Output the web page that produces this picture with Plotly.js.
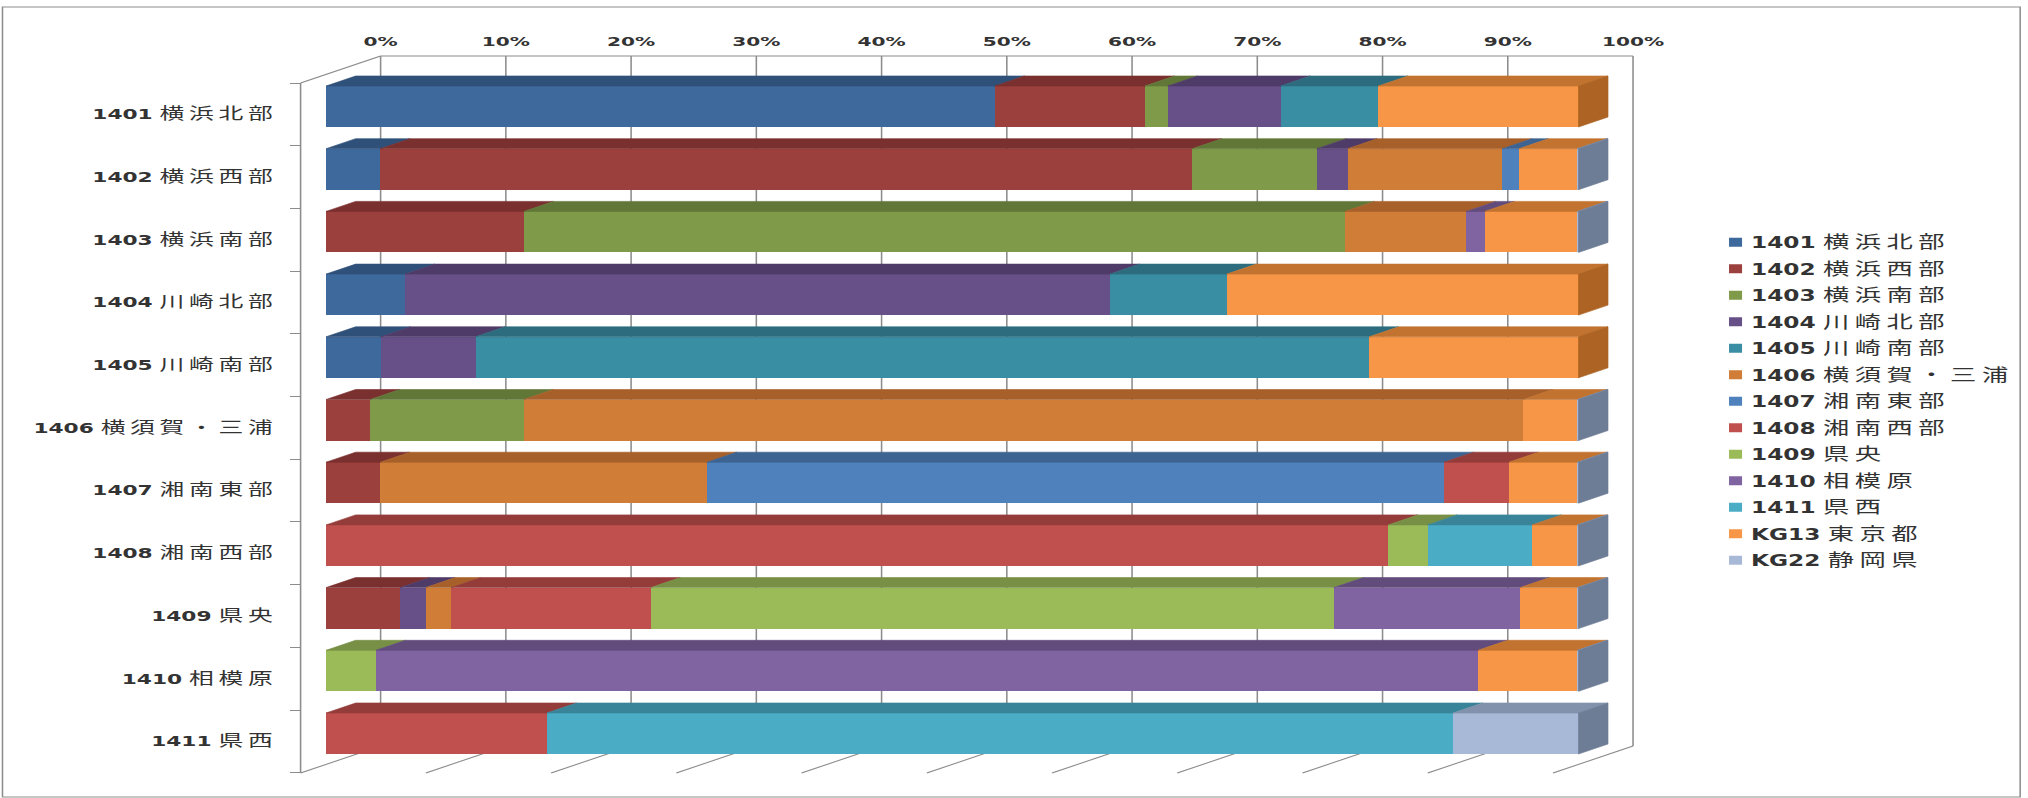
<!DOCTYPE html>
<html><head><meta charset="utf-8">
<script src="https://cdn.plot.ly/plotly-3.0.1.min.js"></script>
<style>
html,body{margin:0;padding:0;background:#fff;overflow:hidden}
#wrap{width:2028px;height:798px;overflow:hidden}
#chart{width:1340px;height:798px;transform:scaleX(1.5504587);transform-origin:0 0}
#chart .legendpoints path{transform:translate(30px,0px) scale(0.7,0.75)}
</style></head><body><div id="wrap"><div id="chart"></div></div>
<script>
// ---------------- data ----------------
const categories = ['1401 横浜北部','1402 横浜西部','1403 横浜南部','1404 川崎北部','1405 川崎南部',
  '1406 横須賀・三浦','1407 湘南東部','1408 湘南西部','1409 県央','1410 相模原','1411 県西'];
const seriesNames = ['1401 横浜北部','1402 横浜西部','1403 横浜南部','1404 川崎北部','1405 川崎南部',
  '1406 横須賀・三浦','1407 湘南東部','1408 湘南西部','1409 県央','1410 相模原','1411 県西',
  'KG13 東京都','KG22 静岡県'];
// share (%) of each destination, one value per origin row (1401 ... 1411)
const s1401 = [53.40, 4.33, 0, 6.32, 4.38, 0, 0, 0, 0, 0, 0];
const s1402 = [11.98, 64.82, 15.79, 0, 0, 3.52, 4.33, 0, 5.91, 0, 0];
const s1403 = [1.83, 9.95, 65.56, 0, 0, 12.27, 0, 0, 0, 0, 0];
const s1404 = [9.01, 2.46, 0, 56.28, 7.55, 0, 0, 0, 2.04, 0, 0];
const s1405 = [7.80, 0, 0, 9.32, 71.36, 0, 0, 0, 0, 0, 0];
const s1406 = [0, 12.36, 9.69, 0, 0, 79.81, 26.09, 0, 2.04, 0, 0];
const s1407 = [0, 1.31, 0, 0, 0, 0, 58.84, 0, 0, 0, 0];
const s1408 = [0, 0, 0, 0, 0, 0, 5.18, 84.81, 15.94, 0, 17.63];
const s1409 = [0, 0, 0, 0, 0, 0, 0, 3.14, 54.53, 3.98, 0];
const s1410 = [0, 0, 1.47, 0, 0, 0, 0, 0, 14.87, 88.00, 0];
const s1411 = [0, 0, 0, 0, 0, 0, 0, 8.33, 0, 0, 72.36];
const sKG13 = [15.98, 4.67, 7.39, 28.08, 16.71, 4.30, 5.46, 3.62, 4.57, 7.92, 0];
const sKG22 = [0, 0.1, 0.1, 0, 0, 0.1, 0.1, 0.1, 0.1, 0.1, 10.01];
const pctTicks = [0,10,20,30,40,50,60,70,80,90,100];
const pctLabels = ['0%','10%','20%','30%','40%','50%','60%','70%','80%','90%','100%'];

const seriesValues = [s1401,s1402,s1403,s1404,s1405,s1406,s1407,s1408,s1409,s1410,s1411,sKG13,sKG22];

// ---------------- style ----------------
const frontColors = ['#3E699C','#9C403D','#7F9A48','#674F88','#3A8EA4','#D07D37','#4F81BD','#C0504D','#9BBB59','#8064A2','#4BACC6','#F79646','#A7B9D7'];
const topColors   = ['#2F5079','#7A302E','#617737','#4E3B68','#2C6C7E','#A8602A','#3C6391','#943C3A','#779045','#614C7C','#398498','#C2732F','#8292AC'];
const sideColors  = ['#2A4770','#6E2B29','#566A31','#44345C','#275F6F','#96551F','#355883','#853634','#6A813C','#56436F','#327587','#AC6323','#6E7D96'];
const FONT = 'DejaVu Sans, Noto Sans CJK JP, sans-serif';
const GRID = '#8c8c8c';

// ---------------- geometry (final picture pixels) ----------------
const S = 2028 / 1308;                     // horizontal stretch of the picture
const LW = 1340;                           // layout width (extra room is clipped by the wrapper)
const L = {l:295, r:1645, t:56, b:780};   // plot box
const fx = px => (px - L.l) / (L.r - L.l);
const fy = py => (L.b - py) / (L.b - L.t);
const P = 12.52;                 // px per 1 %
const BAR_X0 = 326.5, WALL_X0 = 381, PLANE_X0 = 301;
const WALL_TOP = 56, WALL_BOT = 746, PLANE_TOP = 83, PLANE_BOT = 773;
const ROW0 = 106.5, PITCH = 62.7, BAR_H = 41, SLOT0 = 114.35;
const DEPTH_X = 29.5, DEPTH_Y = 10;
const xr = [(L.l - BAR_X0) / P, (L.r - BAR_X0) / P];
const x2r = [(L.l - WALL_X0) / P, (L.r - WALL_X0) / P];
const yr = [(L.b - ROW0) / PITCH, (L.t - ROW0) / PITCH];
const y3r = [(L.b - SLOT0) / PITCH, (L.t - SLOT0) / PITCH];
const dxu = DEPTH_X / P, dyu = DEPTH_Y / PITCH, hh = BAR_H / PITCH / 2;

const rowIdx = categories.map((c, k) => k);
const richLabel = (s, cjkSize, spacing) => {
  const i = s.indexOf(' ');
  return '<b>' + s.slice(0, i) + '</b> <span style="font-size:' + cjkSize + 'px;letter-spacing:' + spacing + 'px">' + s.slice(i + 1) + '</span>';
};

const traces = [];
// front faces
seriesValues.forEach((vals, i) => {
  traces.push({type:'bar', orientation:'h', name: richLabel(seriesNames[i], 17, 3.5), x: vals, y: rowIdx,
    marker:{color: frontColors[i], line:{width:0}}, legendgroup:'g'+i, hoverinfo:'skip'});
});
// top faces
const cum = rowIdx.map(() => 0);
seriesValues.forEach((vals, i) => {
  const px = [], py = [];
  vals.forEach((v, k) => {
    const x0 = cum[k], x1 = cum[k] + v;
    if (v > 0) {
      const yt = k - hh;
      px.push(x0, x1, x1 + dxu, x0 + dxu, x0, null);
      py.push(yt, yt, yt - dyu, yt - dyu, yt, null);
    }
    cum[k] = x1;
  });
  traces.push({type:'scatter', mode:'lines', x:px, y:py, fill:'toself', fillcolor: topColors[i],
    line:{color: topColors[i], width:0.5}, showlegend:false, hoverinfo:'skip'});
});
// right side faces (last segment of each row)
const sideByColor = {};
rowIdx.forEach(k => {
  let last = -1;
  seriesValues.forEach((vals, i) => { if (vals[k] > 0) last = i; });
  const end = cum[k];
  const c = sideColors[last];
  if (!sideByColor[c]) sideByColor[c] = {x:[], y:[]};
  sideByColor[c].x.push(end, end + dxu, end + dxu, end, end, null);
  sideByColor[c].y.push(k - hh, k - hh - dyu, k + hh - dyu, k + hh, k - hh, null);
});
Object.keys(sideByColor).forEach(c => {
  traces.push({type:'scatter', mode:'lines', x: sideByColor[c].x, y: sideByColor[c].y, fill:'toself',
    fillcolor:c, line:{color:c, width:0.5}, showlegend:false, hoverinfo:'skip'});
});
// anchors for the wall axes
traces.push({type:'scatter', mode:'markers', x:categories.map(() => null), y:categories,
  xaxis:'x', yaxis:'y3', showlegend:false, hoverinfo:'skip'});
traces.push({type:'scatter', mode:'markers', x:[null], y:[null], xaxis:'x2', yaxis:'y',
  showlegend:false, hoverinfo:'skip'});

// walls: back-wall grid, floor grid, edges, frame
const shapes = [];
const gl = (x0, y0, x1, y1) => ({type:'line', xref:'paper', yref:'paper', layer:'below',
  x0: fx(x0), y0: fy(y0), x1: fx(x1), y1: fy(y1), line:{color:GRID, width:1}});
pctTicks.forEach(t => {
  shapes.push(gl(WALL_X0 + P * t, WALL_TOP, WALL_X0 + P * t, WALL_BOT));
  shapes.push(gl(PLANE_X0 + P * t, PLANE_BOT, WALL_X0 + P * t, WALL_BOT));
});
shapes.push(gl(WALL_X0, WALL_TOP, WALL_X0 + P * 100, WALL_TOP));
shapes.push(gl(PLANE_X0, PLANE_TOP, WALL_X0, WALL_TOP));
shapes.push(gl(PLANE_X0, PLANE_TOP, PLANE_X0, PLANE_BOT));
shapes.push({type:'rect', xref:'paper', yref:'paper', layer:'below',
  x0: fx(3), y0: fy(797), x1: fx(2020), y1: fy(7), line:{color:'#8e8e8e', width:1}, fillcolor:'rgba(0,0,0,0)'});

const legendLeft = 1751 / S - 40;
const layout = {
  width: LW, height: 798, autosize:false,
  margin:{l: L.l / S, r: LW - L.r / S, t: L.t, b: 798 - L.b, pad:0},
  paper_bgcolor:'#ffffff', plot_bgcolor:'rgba(0,0,0,0)',
  barmode:'stack', bargap: 1 - BAR_H / PITCH,
  font:{family: FONT, color:'#333333'},
  xaxis:{range: xr, visible:false, fixedrange:true},
  yaxis:{range: yr, visible:false, fixedrange:true},
  xaxis2:{overlaying:'x', anchor:'y', side:'top',
    range: x2r, tickmode:'array', tickvals: pctTicks, ticktext: pctLabels,
    showgrid:false, zeroline:false, showline:false, ticks:'', ticklabelstandoff:6,
    tickfont:{family: FONT, size:13, weight:'bold', color:'#333333'}},
  yaxis3:{overlaying:'y', anchor:'free', position: fx(PLANE_X0), side:'left', type:'category',
    range: y3r, tickmode:'array', tickvals: categories, ticktext: categories.map(s => richLabel(s, 16, 3)),
    tickson:'boundaries', ticks:'outside', ticklen: 11 / S, tickcolor:GRID, tickwidth:1,
    showline:false, showgrid:false, zeroline:false,
    ticklabelstandoff:15, tickfont:{family: FONT, size:14, color:'#333333'}},
  legend:{x: (legendLeft - L.l / S) / ((L.r - L.l) / S), xanchor:'left',
    y: fy(226), yanchor:'top', traceorder:'grouped', tracegroupgap:4,
    font:{family: FONT, size:15, color:'#333333'}, bgcolor:'rgba(0,0,0,0)', borderwidth:0},
  shapes: shapes,
  showlegend:true
};
Plotly.newPlot('chart', traces, layout, {displayModeBar:false, staticPlot:true});
</script></body></html>
